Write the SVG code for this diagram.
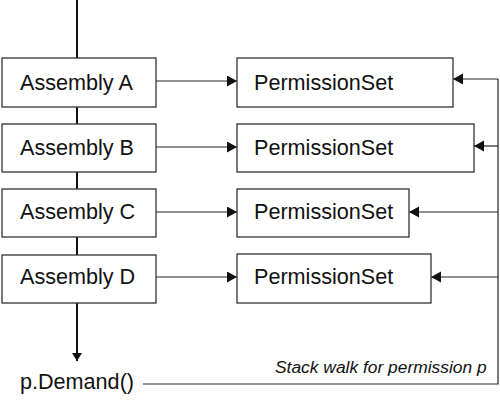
<svg xmlns="http://www.w3.org/2000/svg" width="500" height="405" viewBox="0 0 500 405">
<defs>
<style>
.box{fill:#fff;stroke:#333;stroke-width:1.3}
.t{font-family:"Liberation Sans",Arial,sans-serif;font-size:21.6px;fill:#111}
.it{font-family:"Liberation Sans",Arial,sans-serif;font-size:17.4px;font-style:italic;fill:#111}
.ln{fill:none;stroke:#222;stroke-width:1.2}
.main{fill:none;stroke:#111;stroke-width:2}
</style>
<marker id="ah" markerUnits="userSpaceOnUse" markerWidth="11" markerHeight="12" refX="10" refY="5.5" orient="auto">
<path d="M0,0 L10,5.5 L0,11 z" fill="#111"/>
</marker>
<marker id="ahd" markerUnits="userSpaceOnUse" markerWidth="10" markerHeight="12" refX="8" refY="5" orient="auto">
<path d="M0,0 L8,5 L0,10 z" fill="#111"/>
</marker>
</defs>
<g id="connectors">
<path class="main" d="M77,0 V58 M77,107 V124 M77,172 V189 M77,237 V255"/>
<path class="main" d="M77,303 V361" marker-end="url(#ahd)"/>
<path class="ln" d="M156,81 H237" marker-end="url(#ah)"/>
<path class="ln" d="M156,147 H237" marker-end="url(#ah)"/>
<path class="ln" d="M156,212 H237" marker-end="url(#ah)"/>
<path class="ln" d="M156,277 H237" marker-end="url(#ah)"/>
<path class="ln" d="M143,384 H498 V79"/>
<path class="ln" d="M498,79 H453" marker-end="url(#ah)"/>
<path class="ln" d="M498,146 H474" marker-end="url(#ah)"/>
<path class="ln" d="M498,212 H409" marker-end="url(#ah)"/>
<path class="ln" d="M498,277 H431" marker-end="url(#ah)"/>
</g>
<g id="assemblyA"><rect class="box" x="2" y="58" width="154" height="49"/><text class="t" x="20" y="89.5">Assembly A</text></g>
<g id="assemblyB"><rect class="box" x="2" y="124" width="154" height="48"/><text class="t" x="20" y="155">Assembly B</text></g>
<g id="assemblyC"><rect class="box" x="2" y="189" width="154" height="48"/><text class="t" x="20" y="219">Assembly C</text></g>
<g id="assemblyD"><rect class="box" x="2" y="255" width="154" height="48"/><text class="t" x="20" y="284">Assembly D</text></g>
<g id="permA"><rect class="box" x="237" y="58" width="216" height="49"/><text class="t" x="254" y="89.5">PermissionSet</text></g>
<g id="permB"><rect class="box" x="237" y="124" width="237" height="48"/><text class="t" x="254" y="154.5">PermissionSet</text></g>
<g id="permC"><rect class="box" x="237" y="189" width="172" height="48"/><text class="t" x="254" y="219">PermissionSet</text></g>
<g id="permD"><rect class="box" x="237" y="254" width="194" height="49"/><text class="t" x="254" y="283.5">PermissionSet</text></g>
<g id="demand"><text class="t" x="20" y="389">p.Demand()</text></g>
<g id="stackwalk"><text class="it" x="275" y="372.5">Stack walk for permission p</text></g>
</svg>
